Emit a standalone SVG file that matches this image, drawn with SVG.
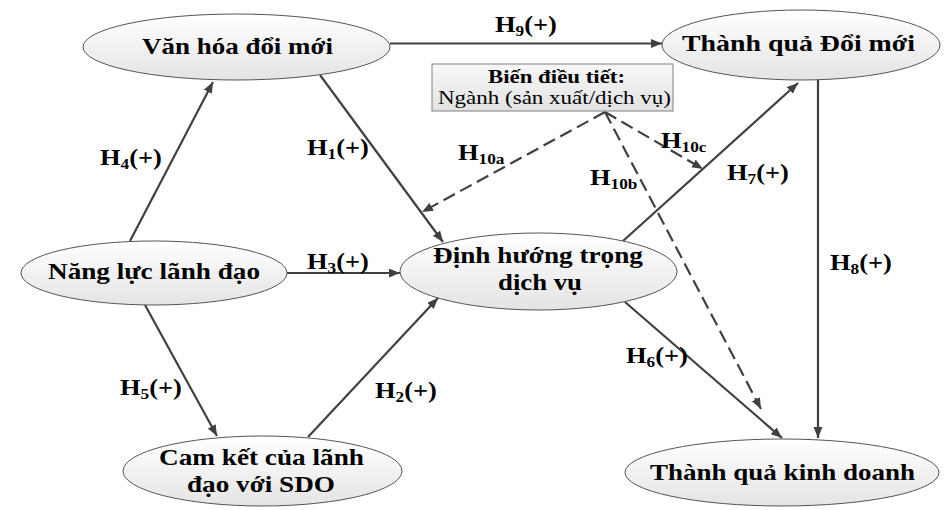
<svg xmlns="http://www.w3.org/2000/svg" width="946" height="510" viewBox="0 0 946 510" font-family="Liberation Serif, Times New Roman, DejaVu Serif, serif">
<defs>
<linearGradient id="gE" x1="0" y1="0" x2="0" y2="1">
<stop offset="0" stop-color="#ffffff"/>
<stop offset="1" stop-color="#e4e4e4"/>
</linearGradient>
<linearGradient id="gB" x1="0" y1="0" x2="0" y2="1">
<stop offset="0" stop-color="#f8f8f8"/>
<stop offset="1" stop-color="#e2e2e2"/>
</linearGradient>
<marker id="ar" markerUnits="userSpaceOnUse" markerWidth="12" markerHeight="10" refX="11" refY="4.5" orient="auto">
<path d="M0,0 L11,4.5 L0,9 z" fill="#404040"/>
</marker>
</defs>
<style>
.node ellipse{fill:url(#gE);stroke:#555;stroke-width:1}
.box{fill:url(#gB);stroke:#808080;stroke-width:1}
.nt{font-weight:bold;font-size:23px;text-anchor:middle;fill:#000}
.bt{font-size:19px;text-anchor:middle;fill:#000}
.bh{font-weight:bold;font-size:19px;text-anchor:middle;fill:#000}
.lb{font-weight:bold;font-size:23px;fill:#000}
.sub{font-size:15px}
.c line{stroke:#404040;stroke-width:2.2;fill:none;marker-end:url(#ar)}
.c line.d{stroke-dasharray:13 6}
</style>
<rect width="946" height="510" fill="#ffffff"/>
<g id="connectors" class="c">
<line x1="390" y1="43.5" x2="662" y2="43.5"/>
<line x1="130" y1="241" x2="213" y2="82"/>
<line x1="320" y1="75" x2="443" y2="242"/>
<line x1="287" y1="273" x2="400" y2="273"/>
<line x1="145" y1="305" x2="217" y2="436"/>
<line x1="308" y1="437" x2="438" y2="298"/>
<line x1="623" y1="241" x2="798" y2="83"/>
<line x1="818" y1="80" x2="818" y2="438"/>
<line x1="625" y1="302" x2="782" y2="438"/>
<line class="d" x1="605" y1="112" x2="422" y2="212"/>
<line class="d" x1="605" y1="112" x2="761" y2="409"/>
<line class="d" x1="605" y1="112" x2="703" y2="169"/>
</g>
<g id="van-hoa-doi-moi" class="node">
<ellipse cx="236.5" cy="47" rx="153.5" ry="33"/>
<text class="nt" font-family="Liberation Serif, serif" x="237.5" y="54" textLength="191" lengthAdjust="spacingAndGlyphs">Văn hóa đổi mới</text>
</g>
<g id="thanh-qua-doi-moi" class="node">
<ellipse cx="801" cy="45" rx="139" ry="35"/>
<text class="nt" font-family="Liberation Serif, serif" x="798.5" y="51" textLength="233" lengthAdjust="spacingAndGlyphs">Thành quả Đổi mới</text>
</g>
<g id="bien-dieu-tiet">
<rect class="box" x="432" y="64" width="241" height="47"/>
<text class="bh" font-family="Liberation Serif, serif" x="556.5" y="83" textLength="137" lengthAdjust="spacingAndGlyphs">Biến điều tiết:</text>
<text class="bt" font-family="Liberation Serif, serif" x="554.5" y="104" textLength="233" lengthAdjust="spacingAndGlyphs">Ngành (sản xuất/dịch vụ)</text>
</g>
<g id="nang-luc-lanh-dao" class="node">
<ellipse cx="154" cy="273" rx="133" ry="32"/>
<text class="nt" font-family="Liberation Serif, serif" x="154" y="279" textLength="212" lengthAdjust="spacingAndGlyphs">Năng lực lãnh đạo</text>
</g>
<g id="dinh-huong-trong-dich-vu" class="node">
<ellipse cx="538.5" cy="271.5" rx="138.5" ry="38.5"/>
<text class="nt" font-family="Liberation Serif, serif" x="538" y="263" textLength="210" lengthAdjust="spacingAndGlyphs">Định hướng trọng</text>
<text class="nt" font-family="Liberation Serif, serif" x="540" y="290" textLength="84" lengthAdjust="spacingAndGlyphs">dịch vụ</text>
</g>
<g id="cam-ket-lanh-dao" class="node">
<ellipse cx="262.5" cy="471" rx="139.5" ry="35"/>
<text class="nt" font-family="Liberation Serif, serif" x="261.5" y="465" textLength="205" lengthAdjust="spacingAndGlyphs">Cam kết của lãnh</text>
<text class="nt" font-family="Liberation Serif, serif" x="261" y="492" textLength="148" lengthAdjust="spacingAndGlyphs">đạo với SDO</text>
</g>
<g id="thanh-qua-kinh-doanh" class="node">
<ellipse cx="782" cy="472.5" rx="157" ry="33.5"/>
<text class="nt" font-family="Liberation Serif, serif" x="782.5" y="480" textLength="265" lengthAdjust="spacingAndGlyphs">Thành quả kinh doanh</text>
</g>
<g id="labels" font-family="Liberation Serif, serif">
<text class="lb" transform="translate(495,32) scale(1.15,1)">H<tspan class="sub" dy="4">9</tspan><tspan dy="-4">(+)</tspan></text>
<text class="lb" transform="translate(100,165) scale(1.15,1)">H<tspan class="sub" dy="4">4</tspan><tspan dy="-4">(+)</tspan></text>
<text class="lb" transform="translate(307,155) scale(1.15,1)">H<tspan class="sub" dy="4">1</tspan><tspan dy="-4">(+)</tspan></text>
<text class="lb" transform="translate(307,269) scale(1.15,1)">H<tspan class="sub" dy="4">3</tspan><tspan dy="-4">(+)</tspan></text>
<text class="lb" transform="translate(120,395) scale(1.15,1)">H<tspan class="sub" dy="4">5</tspan><tspan dy="-4">(+)</tspan></text>
<text class="lb" transform="translate(375,398) scale(1.15,1)">H<tspan class="sub" dy="4">2</tspan><tspan dy="-4">(+)</tspan></text>
<text class="lb" transform="translate(626,363) scale(1.15,1)">H<tspan class="sub" dy="4">6</tspan><tspan dy="-4">(+)</tspan></text>
<text class="lb" transform="translate(727,180) scale(1.15,1)">H<tspan class="sub" dy="4">7</tspan><tspan dy="-4">(+)</tspan></text>
<text class="lb" transform="translate(830,270) scale(1.15,1)">H<tspan class="sub" dy="4">8</tspan><tspan dy="-4">(+)</tspan></text>
<text class="lb" transform="translate(458,160) scale(1.15,1)">H<tspan class="sub" dy="4">10a</tspan></text>
<text class="lb" transform="translate(590,185) scale(1.15,1)">H<tspan class="sub" dy="4">10b</tspan></text>
<text class="lb" transform="translate(661,148) scale(1.15,1)">H<tspan class="sub" dy="4">10c</tspan></text>
</g>
</svg>
